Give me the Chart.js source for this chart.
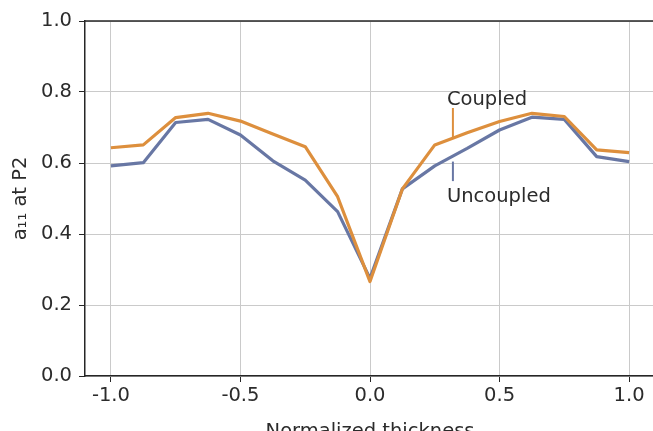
<!DOCTYPE html>
<html>
<head>
<meta charset="utf-8">
<script src="https://cdn.jsdelivr.net/npm/chart.js@4/dist/chart.umd.min.js"></script>
<style>
    html, body { margin: 0; padding: 0; background: #fff; overflow: hidden; }
    #wrap { width: 653px; height: 431px; overflow: hidden; }
</style>
</head>
<body>
<div id="wrap"><canvas id="chart" width="662" height="445"></canvas></div>
<script>
// Dati
const thickness = [-1, -0.875, -0.75, -0.625, -0.5, -0.375, -0.25, -0.125, 0, 0.125, 0.25, 0.375, 0.5, 0.625, 0.75, 0.875, 1];
const coupled = [0.643, 0.651, 0.728, 0.740, 0.718, 0.682, 0.646, 0.505, 0.266, 0.527, 0.651, 0.685, 0.717, 0.740, 0.731, 0.637, 0.629];
const uncoupled = [0.592, 0.601, 0.714, 0.723, 0.679, 0.606, 0.552, 0.463, 0.275, 0.527, 0.592, 0.641, 0.693, 0.729, 0.723, 0.618, 0.604];
const xTicks = [-1.0, -0.5, 0.0, 0.5, 1.0];
const yTicks = [0.0, 0.2, 0.4, 0.6, 0.8, 1.0];

// Annotazioni: testo e segmento verso la curva
const annLabels = ['Coupled', 'Uncoupled'];
const annText = [[0.297, 0.763], [0.297, 0.490]];
const annLine = [[[0.320, 0.755], [0.320, 0.668]], [[0.320, 0.549], [0.320, 0.604]]];

const ORANGE = '#dd8f3d';
const BLUE = '#6877a4';
const TEXT = '#2b2b2b';
const FONT = "'DejaVu Sans', sans-serif";

const toPoints = (xs, ys) => xs.map((x, i) => ({ x, y: ys[i] }));

// Bordo superiore del riquadro e annotazioni
const framePlugin = {
    id: 'frame',
    afterDraw(chart) {
        const { ctx, chartArea, scales } = chart;
        ctx.save();
        ctx.strokeStyle = '#262626';
        ctx.lineWidth = 1.5;
        ctx.beginPath();
        ctx.moveTo(chartArea.left, chartArea.top);
        ctx.lineTo(chartArea.right, chartArea.top);
        ctx.stroke();

        const colors = [ORANGE, BLUE];
        annLabels.forEach((label, i) => {
            const seg = annLine[i];
            ctx.strokeStyle = colors[i];
            ctx.lineWidth = 2;
            ctx.beginPath();
            ctx.moveTo(scales.x.getPixelForValue(seg[0][0]), scales.y.getPixelForValue(seg[0][1]));
            ctx.lineTo(scales.x.getPixelForValue(seg[1][0]), scales.y.getPixelForValue(seg[1][1]));
            ctx.stroke();

            ctx.fillStyle = TEXT;
            ctx.font = '19.5px ' + FONT;
            ctx.textAlign = 'left';
            ctx.textBaseline = 'alphabetic';
            ctx.fillText(label, scales.x.getPixelForValue(annText[i][0]), scales.y.getPixelForValue(annText[i][1]));
        });
        ctx.restore();
    }
};

const ctx = document.getElementById('chart').getContext('2d');
new Chart(ctx, {
    type: 'line',
    data: {
        datasets: [{
            label: 'Coupled',
            data: toPoints(thickness, coupled),
            borderColor: ORANGE,
            borderWidth: 3.2,
            borderJoinStyle: 'round',
            pointRadius: 0,
            tension: 0
        }, {
            label: 'Uncoupled',
            data: toPoints(thickness, uncoupled),
            borderColor: BLUE,
            borderWidth: 3.2,
            borderJoinStyle: 'round',
            pointRadius: 0,
            tension: 0
        }]
    },
    options: {
        responsive: false,
        animation: false,
        layout: { padding: { top: 21, right: 7, bottom: 0, left: 0 } },
        plugins: {
            legend: { display: false },
            tooltip: { enabled: false }
        },
        scales: {
            x: {
                type: 'linear',
                min: -1.1,
                max: 1.1,
                afterBuildTicks: (scale) => { scale.ticks = xTicks.map(v => ({ value: v })); },
                afterFit: (scale) => { scale.height = 69; },
                ticks: {
                    color: TEXT,
                    font: { family: FONT, size: 19.5 },
                    padding: 2,
                    maxRotation: 0,
                    callback: (v) => Number(v).toFixed(1)
                },
                grid: {
                    color: '#cacaca',
                    lineWidth: 1,
                    tickColor: '#262626',
                    tickLength: 6
                },
                border: { color: '#262626', width: 1.5 },
                title: {
                    display: true,
                    text: 'Normalized thickness',
                    color: TEXT,
                    font: { family: FONT, size: 19.5 },
                    padding: { top: 0, bottom: 1 }
                }
            },
            y: {
                min: 0,
                max: 1,
                afterBuildTicks: (scale) => { scale.ticks = yTicks.map(v => ({ value: v })); },
                afterFit: (scale) => { scale.width = 85; },
                ticks: {
                    color: TEXT,
                    font: { family: FONT, size: 19.5 },
                    padding: 7,
                    callback: (v) => Number(v).toFixed(1)
                },
                grid: {
                    color: '#cacaca',
                    lineWidth: 1,
                    tickColor: '#262626',
                    tickLength: 6
                },
                border: { color: '#262626', width: 1.5 },
                title: {
                    display: true,
                    text: 'a\u2081\u2081 at P2',
                    color: TEXT,
                    font: { family: FONT, size: 19.5 },
                    padding: { top: 9, bottom: 0 }
                }
            }
        }
    },
    plugins: [framePlugin]
});
</script>
</body>
</html>
